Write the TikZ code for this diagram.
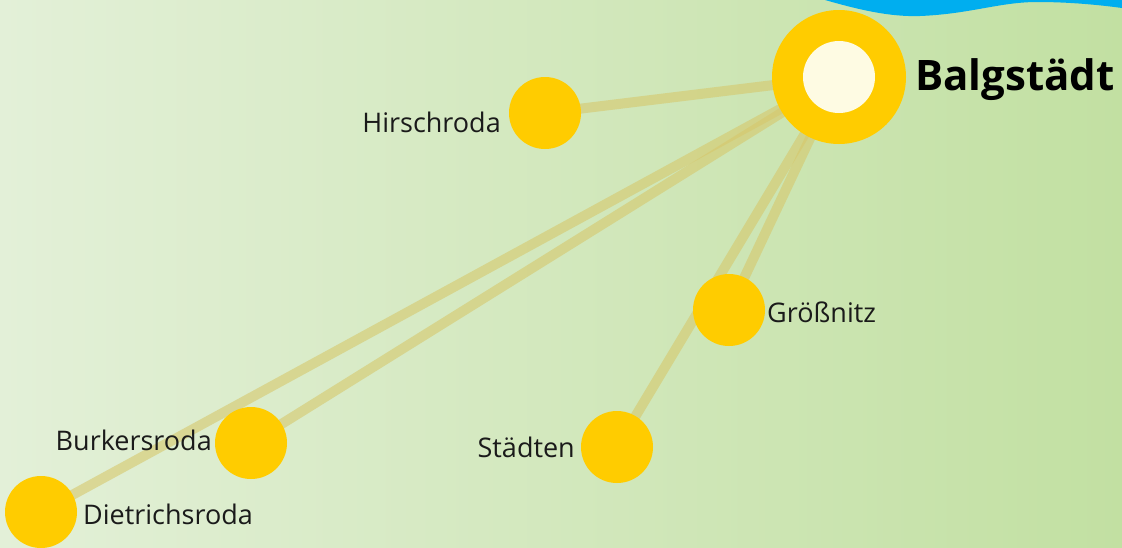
\documentclass[tikz,border=0pt]{standalone}
\usepackage{fontspec}
\setmainfont{Open Sans}
\begin{document}
\begin{tikzpicture}[x=1pt,y=-1pt,
  stop/.style={circle,fill=nodeyellow,draw=none,minimum size=72pt,inner sep=0pt},
  hub/.style={circle,fill=nodeyellow,draw=none,minimum size=134pt,inner sep=0pt},
  hubinner/.style={circle,fill=hubcream,draw=none,minimum size=72pt,inner sep=0pt},
  place/.style={font=\fontsize{27}{32}\selectfont,text=labeltext,inner sep=0pt},
  hubname/.style={font=\fontsize{42}{50}\selectfont\bfseries,text=black,inner sep=0pt},
  link/.style={draw=linkcol,line width=10pt,opacity=0.6}]
\definecolor{nodeyellow}{RGB}{255,204,0}
\definecolor{hubcream}{RGB}{254,251,227}
\definecolor{labeltext}{RGB}{26,26,26}
\definecolor{linkcol}{RGB}{214,200,108}
\definecolor{bgleft}{RGB}{227,240,216}
\definecolor{bgright}{RGB}{194,224,162}
\definecolor{wave}{RGB}{0,174,239}
\useasboundingbox (0,0) rectangle (1122,547);
\shade[left color=bgleft,right color=bgright] (0,0) rectangle (1122,547);
\fill[wave] (825,0) .. controls (860,10) and (890,17) .. (920,16)
  .. controls (970,14) and (1000,2) .. (1037,2)
  .. controls (1070,2) and (1100,5) .. (1122,8) -- (1122,0) -- cycle;
% node positions
\coordinate (pb) at (839,77);
\coordinate (ph) at (545,113);
\coordinate (pg) at (729,310);
\coordinate (ps) at (617,447);
\coordinate (pk) at (251,443);
\coordinate (pd) at (41,512);
% links
\draw[link] (pb) -- (ph);
\draw[link] (pb) -- (pg);
\draw[link] (pb) -- (ps);
\draw[link] (pb) -- (pk);
\draw[link] (pb) -- (pd);
% stops
\node[hub] (balg) at (pb) {};
\node[hubinner] (balgin) at (pb) {};
\node[stop] (hirsch) at (ph) {};
\node[stop] (gross) at (pg) {};
\node[stop] (staedt) at (ps) {};
\node[stop] (burk) at (pk) {};
\node[stop] (dietr) at (pd) {};
% labels
\node[hubname,anchor=base west] (lbalg) at (915,90) {Balgstädt};
\node[place,anchor=base east] (lhirsch) at (501,132) {Hirschroda};
\node[place,anchor=base west] (lgross) at (767,322) {Größnitz};
\node[place,anchor=base east] (lstaedt) at (575,457) {Städten};
\node[place,anchor=base east] (lburk) at (212,450) {Burkersroda};
\node[place,anchor=base west] (ldietr) at (83,524) {Dietrichsroda};
\end{tikzpicture}
\end{document}
